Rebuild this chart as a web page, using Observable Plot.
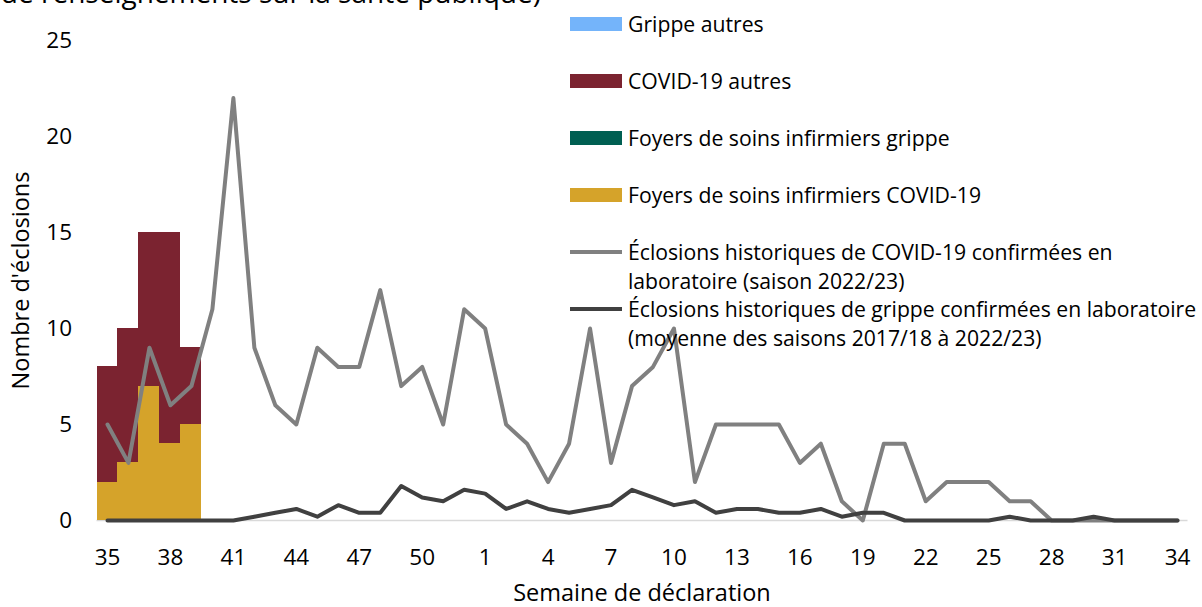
<!DOCTYPE html>
<html>
<head>
<meta charset="utf-8">
<script src="https://cdn.jsdelivr.net/npm/d3@7"></script>
<script src="https://cdn.jsdelivr.net/npm/@observablehq/plot@0.6"></script>
<style>
  body { margin: 0; background: #fff; }
  #wrap { position: relative; width: 1202px; height: 607px; overflow: hidden; font-family: 'Open Sans', sans-serif; color: #000; }
  #wrap svg { position: absolute; left: 0; top: 0; }
  .txt { position: absolute; font-size: 21.2px; line-height: 29px; white-space: nowrap; }
  .sw { position: absolute; }
</style>
</head>
<body>
<div id="wrap"></div>
<script>
// ---- data ----
const weeks = ["35","36","37","38","39","40","41","42","43","44","45","46","47","48","49","50","51","52",
  "1","2","3","4","5","6","7","8","9","10","11","12","13","14","15","16","17","18","19","20",
  "21","22","23","24","25","26","27","28","29","30","31","32","33","34"];
const tickWeeks = ["35","38","41","44","47","50","1","4","7","10","13","16","19","22","25","28","31","34"];
const yTicks = [0, 5, 10, 15, 20, 25];

const barWeeks = ["35","36","37","38","39"];
const covidNursing = [2, 3, 7, 4, 5];      // Foyers de soins infirmiers COVID-19
const fluNursing   = [0, 0, 0, 0, 0];      // Foyers de soins infirmiers grippe
const covidOther   = [6, 7, 8, 11, 4];     // COVID-19 autres
const fluOther     = [0, 0, 0, 0, 0];      // Grippe autres

const covidHist = [5,3,9,6,7,11,22,9,6,5,9,8,8,12,7,8,5,11,
  10,5,4,2,4,10,3,7,8,10,2,5,5,5,5,3,4,1,0,4,4,1,2,2,2,1,1,0,0,0,0,0,0,0];
const fluHist = [0,0,0,0,0,0,0,0.2,0.4,0.6,0.2,0.8,0.4,0.4,1.8,1.2,1.0,1.6,
  1.4,0.6,1.0,0.6,0.4,0.6,0.8,1.6,1.2,0.8,1.0,0.4,0.6,0.6,0.4,0.4,0.6,0.2,0.4,0.4,0,0,0,0,0,0.2,0,0,0,0.2,0,0,0,0];

const seriesNames = ["Foyers de soins infirmiers COVID-19", "Foyers de soins infirmiers grippe", "COVID-19 autres", "Grippe autres"];
const seriesColors = ["#d5a32a", "#005f52", "#7b2330", "#74b4fa"];
const seriesValues = [covidNursing, fluNursing, covidOther, fluOther];
const lineNames = ["Éclosions historiques de COVID-19 confirmées en|laboratoire (saison 2022/23)",
                   "Éclosions historiques de grippe confirmées en laboratoire|(moyenne des saisons 2017/18 à 2022/23)"];
const lineColors = ["#808080", "#404040"];
const titleText = "(Système intégré de renseignements sur la santé publique)";

// ---- tables ----
const barData = [];
seriesNames.forEach((s, k) => barWeeks.forEach((w, i) => barData.push({week: w, series: s, value: seriesValues[k][i]})));
const covidLine = weeks.map((w, i) => ({week: w, value: covidHist[i]}));
const fluLine = weeks.map((w, i) => ({week: w, value: fluHist[i]}));

const chart = Plot.plot({
  width: 1202,
  height: 607,
  marginLeft: 96.5,
  marginRight: 14.5,
  marginTop: 40,
  marginBottom: 87,
  style: {fontFamily: "'Open Sans', sans-serif", fontSize: "22.5px", color: "#000", background: "transparent", overflow: "visible"},
  x: {type: "band", domain: weeks, padding: 0, ticks: tickWeeks, tickSize: 0, tickPadding: 29, label: null},
  y: {domain: [0, 25], ticks: yTicks, tickSize: 0, tickPadding: 25, label: null},
  color: {domain: seriesNames, range: seriesColors},
  marks: [
    Plot.ruleY([0], {stroke: "#d9d9d9", strokeWidth: 1.5}),
    Plot.barY(barData, {x: "week", y: "value", fill: "series", order: seriesNames, shapeRendering: "crispEdges"}),
    Plot.line(covidLine, {x: "week", y: "value", stroke: lineColors[0], strokeWidth: 4}),
    Plot.line(fluLine, {x: "week", y: "value", stroke: lineColors[1], strokeWidth: 4})
  ]
});

const wrap = document.getElementById("wrap");
wrap.appendChild(chart);

function addDiv(cls, css, text) {
  const d = document.createElement("div");
  d.className = cls;
  Object.assign(d.style, css);
  if (text != null) d.innerHTML = text;
  wrap.appendChild(d);
  return d;
}

// title (cut at top, as in the reference)
addDiv("txt", {right: (1202 - 541) + "px", top: "-22px", fontSize: "28px", lineHeight: "28px"}, titleText);

// axis titles
addDiv("txt", {left: "342px", width: "600px", textAlign: "center", top: "580px", fontSize: "23.5px", lineHeight: "24px"}, "Semaine de déclaration");
addDiv("txt", {left: (20 - 150) + "px", width: "300px", textAlign: "center", top: (280 - 15.5) + "px", fontSize: "23.5px", lineHeight: "31px", transform: "rotate(-90deg)"}, "Nombre d'éclosions");

// legend: bars (reverse order top-to-bottom)
const legendBars = seriesNames.slice().reverse();
const legendColors = seriesColors.slice().reverse();
legendBars.forEach((s, i) => {
  addDiv("sw", {left: "570px", top: (17 + 57 * i) + "px", width: "52px", height: "14px", background: legendColors[i]});
  addDiv("txt", {left: "628px", top: (8.5 + 57 * i) + "px"}, s);
});
// legend: lines
const lineSwY = [252, 309];
const lineTxtTop = [236.5, 293.5];
lineNames.forEach((s, i) => {
  addDiv("sw", {left: "570px", top: (lineSwY[i] - 2) + "px", width: "52px", height: "4px", background: lineColors[i]});
  addDiv("txt", {left: "628px", top: lineTxtTop[i] + "px"}, s.split("|").join("<br>"));
});
</script>
</body>
</html>
